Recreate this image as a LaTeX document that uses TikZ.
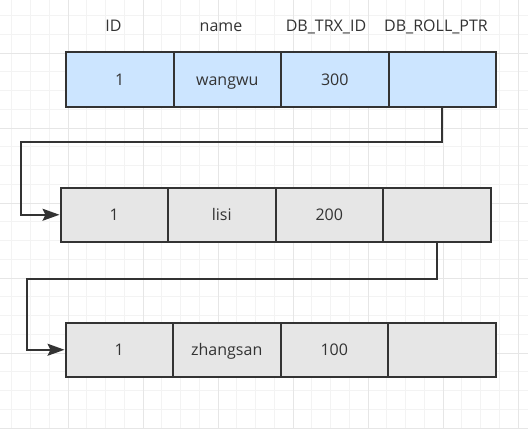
\documentclass[tikz,border=0pt]{standalone}
\usepackage{fontspec}
\setmainfont{Open Sans}
\usetikzlibrary{arrows.meta}
\definecolor{gridminor}{HTML}{F3F3F3}
\definecolor{gridmajor}{HTML}{E6E6E6}
\definecolor{edgecol}{HTML}{333333}
\definecolor{txtcol}{HTML}{333333}
\definecolor{bluefill}{HTML}{CCE5FF}
\definecolor{grayfill}{HTML}{E6E6E6}
\tikzset{
  cell/.style={rectangle, draw=edgecol, line width=2pt, minimum width=107.5pt,
    minimum height=54.5pt, inner sep=0pt, anchor=north west, text=txtcol,
    text height=11.5pt, text depth=0pt,
    font=\fontsize{16}{19}\selectfont},
  bluecell/.style={cell, fill=bluefill},
  graycell/.style={cell, fill=grayfill},
  header/.style={inner sep=0pt, text=txtcol, text height=11.5pt, text depth=0pt,
    font=\fontsize{16}{19}\selectfont},
  conn/.style={draw=edgecol, line width=2pt,
    -{Stealth[length=17pt,width=12pt,inset=3pt]}}
}
\begin{document}
\begin{tikzpicture}[x=1pt,y=-1pt]
\useasboundingbox (0,0) rectangle (528,429);
\fill[white] (0,0) rectangle (528,429);
% grid
\foreach \i in {0,...,27}
  \draw[gridminor, line width=1pt] ({11.75+18.75*\i},0) -- ({11.75+18.75*\i},429);
\foreach \i in {0,...,22}
  \draw[gridminor, line width=1pt] (0,{15.5+18.75*\i}) -- (528,{15.5+18.75*\i});
\foreach \i in {0,...,6}
  \draw[gridmajor, line width=1pt] ({68+75*\i},0) -- ({68+75*\i},429);
\foreach \i in {0,...,5}
  \draw[gridmajor, line width=1pt] (0,{53+75*\i}) -- (528,{53+75*\i});
% headers
\node[header] (hid) at (113.5,26) {ID};
\node[header] (hname) at (221,26) {name};
\node[header] (htrx) at (326,26) {DB\_TRX\_ID};
\node[header] (hroll) at (436,26) {DB\_ROLL\_PTR};
% row 1
\node[bluecell] (r1c1) at (65,51) {1};
\node[bluecell] (r1c2) at (172.5,51) {wangwu};
\node[bluecell] (r1c3) at (280,51) {300};
\node[bluecell] (r1c4) at (387.5,51) {};
% row 2
\node[graycell] (r2c1) at (59.5,186.5) {1};
\node[graycell] (r2c2) at (167,186.5) {lisi};
\node[graycell] (r2c3) at (274.5,186.5) {200};
\node[graycell] (r2c4) at (382,186.5) {};
% row 3
\node[graycell] (r3c1) at (64.5,321.5) {1};
\node[graycell] (r3c2) at (172,321.5) {zhangsan};
\node[graycell] (r3c3) at (279.5,321.5) {100};
\node[graycell] (r3c4) at (387,321.5) {};
% connectors
\coordinate (b1) at (21,142);
\coordinate (b2) at (27,279);
\draw[conn] (r1c4.south) |- (b1) |- (r2c1.west);
\draw[conn] (r2c4.south) |- (b2) |- (r3c1.west);
\end{tikzpicture}
\end{document}
